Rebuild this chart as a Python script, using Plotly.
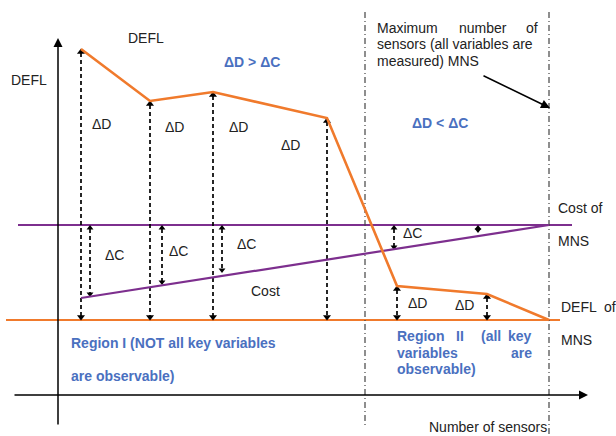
import plotly.graph_objects as go

# ---------------- data (arbitrary schematic units) ----------------
defl_x = [23, 92, 155, 269, 339, 429, 491]
defl_y = [346, 294, 303, 277, 109, 101, 75]
defl_mns = 75          # DEFL of MNS (baseline)
cost_mns = 170         # Cost of MNS
cost_x = [23, 491]
cost_y = [97, 170]
dc_x = [32, 104, 164, 336, 420]
dc_low = [98, 110, 122, 145, 162]
mns_x = 491
region_split_x = 307

ORANGE = "#f07a2c"
PURPLE = "#7d2f8e"
BLUE = "#4a70bf"
TXT = "#222222"
FONT = "Liberation Sans, Arial, sans-serif"

fig = go.Figure()

# baseline and cost-of-MNS reference lines
fig.add_trace(go.Scatter(x=[-52, 502], y=[defl_mns, defl_mns], mode="lines",
                         line=dict(color=ORANGE, width=2.2), hoverinfo="skip"))
fig.add_trace(go.Scatter(x=[-40, 514], y=[cost_mns, cost_mns], mode="lines",
                         line=dict(color=PURPLE, width=2), hoverinfo="skip"))

# vertical dash-dot lines
for vx, yb in [(region_split_x, -32), (mns_x, -41)]:
    fig.add_trace(go.Scatter(x=[vx, vx], y=[383, yb], mode="lines",
                             line=dict(color="#444444", width=1.2, dash="6px,3px,1px,3px"),
                             hoverinfo="skip"))

# ΔD double arrows (dashed)
for xi, yi in zip(defl_x[:-1], defl_y[:-1]):
    fig.add_trace(go.Scatter(x=[xi, xi], y=[yi - 4, defl_mns + 4], mode="lines",
                             line=dict(color="black", width=1.7, dash="4px,3px"), hoverinfo="skip"))
    fig.add_trace(go.Scatter(x=[xi], y=[yi - 3], mode="markers",
                             marker=dict(symbol="triangle-up", size=7, color="black"), hoverinfo="skip"))
    fig.add_trace(go.Scatter(x=[xi], y=[defl_mns + 3], mode="markers",
                             marker=dict(symbol="triangle-down", size=7, color="black"), hoverinfo="skip"))

# ΔC double arrows (dashed)
for xi, lo in zip(dc_x, dc_low):
    fig.add_trace(go.Scatter(x=[xi, xi], y=[cost_mns - 4, lo + 4], mode="lines",
                             line=dict(color="black", width=1.7, dash="4px,3px"), hoverinfo="skip"))
    fig.add_trace(go.Scatter(x=[xi], y=[cost_mns - 3], mode="markers",
                             marker=dict(symbol="triangle-up", size=6, color="black"), hoverinfo="skip"))
    fig.add_trace(go.Scatter(x=[xi], y=[lo + 3], mode="markers",
                             marker=dict(symbol="triangle-down", size=6, color="black"), hoverinfo="skip"))

# Cost line and DEFL curve
fig.add_trace(go.Scatter(x=cost_x, y=cost_y, mode="lines",
                         line=dict(color=PURPLE, width=2.2), hoverinfo="skip"))
fig.add_trace(go.Scatter(x=defl_x, y=defl_y, mode="lines",
                         line=dict(color=ORANGE, width=2.6), hoverinfo="skip"))

ann = []
# axes with arrowheads
ann.append(dict(x=0, y=357, ax=0, ay=-31, xref="x", yref="y", axref="x", ayref="y",
                showarrow=True, arrowhead=2, arrowsize=1.2, arrowwidth=1.5, arrowcolor="black", text=""))
ann.append(dict(x=530, y=0, ax=-45, ay=0, xref="x", yref="y", axref="x", ayref="y",
                showarrow=True, arrowhead=2, arrowsize=1.2, arrowwidth=1.5, arrowcolor="black", text=""))
# MNS pointer arrow
ann.append(dict(x=492, y=287, ax=424, ay=320, xref="x", yref="y", axref="x", ayref="y",
                showarrow=True, arrowhead=2, arrowsize=1.2, arrowwidth=1.5, arrowcolor="black", text=""))


def txt(x, y, s, anchor="center", color=TXT, bold=False, size=14):
    ann.append(dict(x=x, y=y, xref="x", yref="y", text=("<b>%s</b>" % s) if bold else s,
                    showarrow=False, xanchor=anchor, yanchor="middle",
                    font=dict(family=FONT, size=size, color=color)))


txt(88, 357, "DEFL")
txt(-29, 315, "DEFL")
txt(194, 333, "ΔD &gt; ΔC", color=BLUE, bold=True)
txt(382, 272, "ΔD &lt; ΔC", color=BLUE, bold=True)
for (x, y) in [(43, 271), (116, 268), (180, 268), (232, 250), (359, 92), (406, 90)]:
    txt(x, y, "ΔD")
for (x, y) in [(56, 140), (120, 144), (188, 151), (354, 162)]:
    txt(x, y, "ΔC")
txt(207, 104, "Cost")

# MNS note (justified look)
txt(317, 367, "Maximum", anchor="left")
txt(425, 367, "number")
txt(482, 367, "of", anchor="right")
txt(317, 351, "sensors (all variables are", anchor="left")
txt(317, 334, "measured) MNS", anchor="left")

txt(498, 187, "Cost of", anchor="left")
txt(498, 154, "MNS", anchor="left")
txt(501, 88, "DEFL  of", anchor="left")
txt(501, 55, "MNS", anchor="left")

txt(11, 52, "Region I (NOT all key variables", anchor="left", color=BLUE, bold=True)
txt(11, 19, "are observable)", anchor="left", color=BLUE, bold=True)

txt(337, 59, "Region", anchor="left", color=BLUE, bold=True)
txt(402, 59, "II", color=BLUE, bold=True)
txt(433, 59, "(all", color=BLUE, bold=True)
txt(476, 59, "key", anchor="right", color=BLUE, bold=True)
txt(337, 42, "variables", anchor="left", color=BLUE, bold=True)
txt(476, 42, "are", anchor="right", color=BLUE, bold=True)
txt(337, 26, "observable)", anchor="left", color=BLUE, bold=True)

txt(430, -32, "Number of sensors")

fig.update_layout(
    width=616, height=436, margin=dict(l=0, r=0, t=0, b=0),
    paper_bgcolor="white", plot_bgcolor="white", showlegend=False,
    xaxis=dict(range=[-58, 558], visible=False, fixedrange=True),
    yaxis=dict(range=[-41, 395], visible=False, fixedrange=True),
    annotations=ann,
)

fig.write_html("out.html", config={"displayModeBar": False},
               post_script="document.body.style.margin='0';document.body.style.overflow='hidden';")
